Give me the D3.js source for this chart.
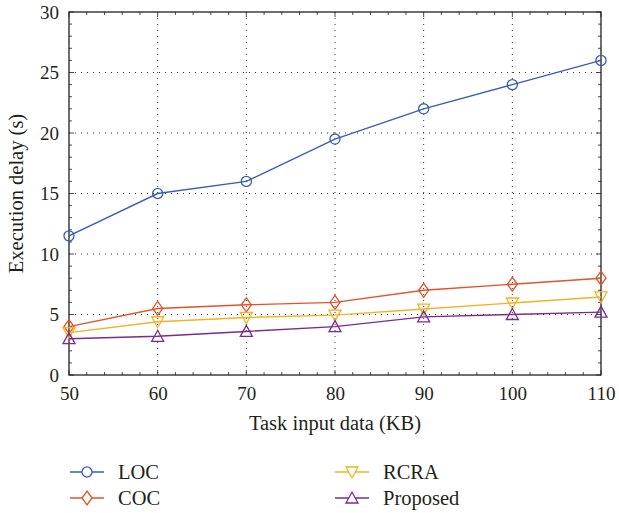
<!DOCTYPE html>
<html>
<head>
<meta charset="utf-8">
<script src="https://cdn.jsdelivr.net/npm/d3@7"></script>
<style>
	body { margin: 0; background: #fff; }
	text { font-family: "Liberation Serif", "DejaVu Serif", serif; fill: #231f20; }
</style>
</head>
<body>
<svg id="chart" width="619" height="513"></svg>
<script>
var xValues = [50, 60, 70, 80, 90, 100, 110];
var locDelay = [11.5, 15, 16, 19.5, 22, 24, 26];
var cocDelay = [4, 5.5, 5.8, 6, 7, 7.5, 8];
var rcraDelay = [3.5, 4.4, 4.75, 4.95, 5.45, 5.95, 6.45];
var proposedDelay = [3, 3.2, 3.6, 4, 4.8, 5, 5.2];
var yTicks = [0, 5, 10, 15, 20, 25, 30];

var series = [
	{ name: 'LOC', values: locDelay, color: '#3a5db5', marker: 'circle' },
	{ name: 'COC', values: cocDelay, color: '#e0542a', marker: 'diamond' },
	{ name: 'RCRA', values: rcraDelay, color: '#f0b323', marker: 'down' },
	{ name: 'Proposed', values: proposedDelay, color: '#7d2a8f', marker: 'up' }
];

function drawChart() {
	var svg = d3.select('#chart');
	var left = 69, right = 601, plotTop = 12, bottom = 375;

	var x = d3.scaleLinear().domain([50, 110]).range([left, right]);
	var y = d3.scaleLinear().domain([0, 30]).range([bottom, plotTop]);

	// grid
	var grid = svg.append('g').attr('stroke', '#333').attr('stroke-width', 1)
		.attr('stroke-dasharray', '1,5');
	xValues.slice(1, -1).forEach(function (v) {
		grid.append('line').attr('x1', x(v)).attr('x2', x(v)).attr('y1', plotTop).attr('y2', bottom);
	});
	yTicks.slice(1, -1).forEach(function (v) {
		grid.append('line').attr('x1', left).attr('x2', right).attr('y1', y(v)).attr('y2', y(v));
	});

	// inward ticks on all four sides, MATLAB style
	var xMinor = d3.range(50, 111, 2);
	var yMinor = d3.range(0, 31, 1);
	var ticks = svg.append('g').attr('stroke', '#231f20').attr('stroke-width', 0.8);
	xMinor.forEach(function (v) {
		var len = (v % 10 === 0) ? 5 : 3;
		ticks.append('line').attr('x1', x(v)).attr('x2', x(v)).attr('y1', bottom).attr('y2', bottom - len);
		ticks.append('line').attr('x1', x(v)).attr('x2', x(v)).attr('y1', plotTop).attr('y2', plotTop + len);
	});
	yMinor.forEach(function (v) {
		var len = (v % 5 === 0) ? 5 : 3;
		ticks.append('line').attr('x1', left).attr('x2', left + len).attr('y1', y(v)).attr('y2', y(v));
		ticks.append('line').attr('x1', right).attr('x2', right - len).attr('y1', y(v)).attr('y2', y(v));
	});
	svg.append('rect').attr('x', left).attr('y', plotTop).attr('width', right - left).attr('height', bottom - plotTop)
		.attr('fill', 'none').attr('stroke', '#231f20').attr('stroke-width', 1.3);

	var xAxis = d3.axisBottom(x).tickValues(xValues).tickSize(0).tickPadding(12);
	svg.append('g').attr('transform', 'translate(0,' + bottom + ')').call(xAxis)
		.call(function (g) { g.select('.domain').remove(); })
		.selectAll('text').style('font-size', '19px').attr('fill', '#231f20');
	var yAxis = d3.axisLeft(y).tickValues(yTicks).tickSize(0).tickPadding(10);
	svg.append('g').attr('transform', 'translate(' + left + ',0)').call(yAxis)
		.call(function (g) { g.select('.domain').remove(); })
		.selectAll('text').style('font-size', '19px').attr('fill', '#231f20');

	svg.append('text').attr('x', (left + right) / 2).attr('y', 430).attr('text-anchor', 'middle')
		.style('font-size', '20.5px').text('Task input data (KB)');
	svg.append('text').attr('transform', 'translate(23,' + (plotTop + bottom) / 2 + ') rotate(-90)')
		.attr('text-anchor', 'middle').style('font-size', '20.5px').text('Execution delay (s)');

	function markerPath(type) {
		if (type === 'circle') return d3.symbol(d3.symbolCircle, 80)();
		if (type === 'diamond') return 'M0,-7L5,0L0,7L-5,0Z';
		if (type === 'down') return 'M-6,-5L6,-5L0,6Z';
		return 'M-6,5L6,5L0,-6Z';
	}

	var line = d3.line().x(function (d, i) { return x(xValues[i]); }).y(function (d) { return y(d); });

	series.forEach(function (s) {
		var g = svg.append('g');
		g.append('path').attr('d', line(s.values)).attr('fill', 'none')
			.attr('stroke', s.color).attr('stroke-width', 1.4);
		g.selectAll('.mk').data(s.values).enter().append('path')
			.attr('class', 'mk')
			.attr('transform', function (d, i) { return 'translate(' + x(xValues[i]) + ',' + y(d) + ')'; })
			.attr('d', markerPath(s.marker))
			.attr('fill', 'none').attr('stroke', s.color).attr('stroke-width', 1.3);
	});

	// legend
	var legendPos = [[70, 472], [70, 498], [335, 472], [335, 498]];
	series.forEach(function (s, i) {
		var p = legendPos[i];
		var g = svg.append('g').attr('transform', 'translate(' + p[0] + ',' + p[1] + ')');
		g.append('line').attr('x1', 0).attr('x2', 34).attr('y1', 0).attr('y2', 0)
			.attr('stroke', s.color).attr('stroke-width', 1.4);
		g.append('path').attr('transform', 'translate(17,0)').attr('d', markerPath(s.marker))
			.attr('fill', '#fff').attr('stroke', s.color).attr('stroke-width', 1.3);
		g.append('text').attr('x', 48).attr('y', 7).style('font-size', '20.5px').text(s.name);
	});
}

drawChart();
</script>
</body>
</html>
